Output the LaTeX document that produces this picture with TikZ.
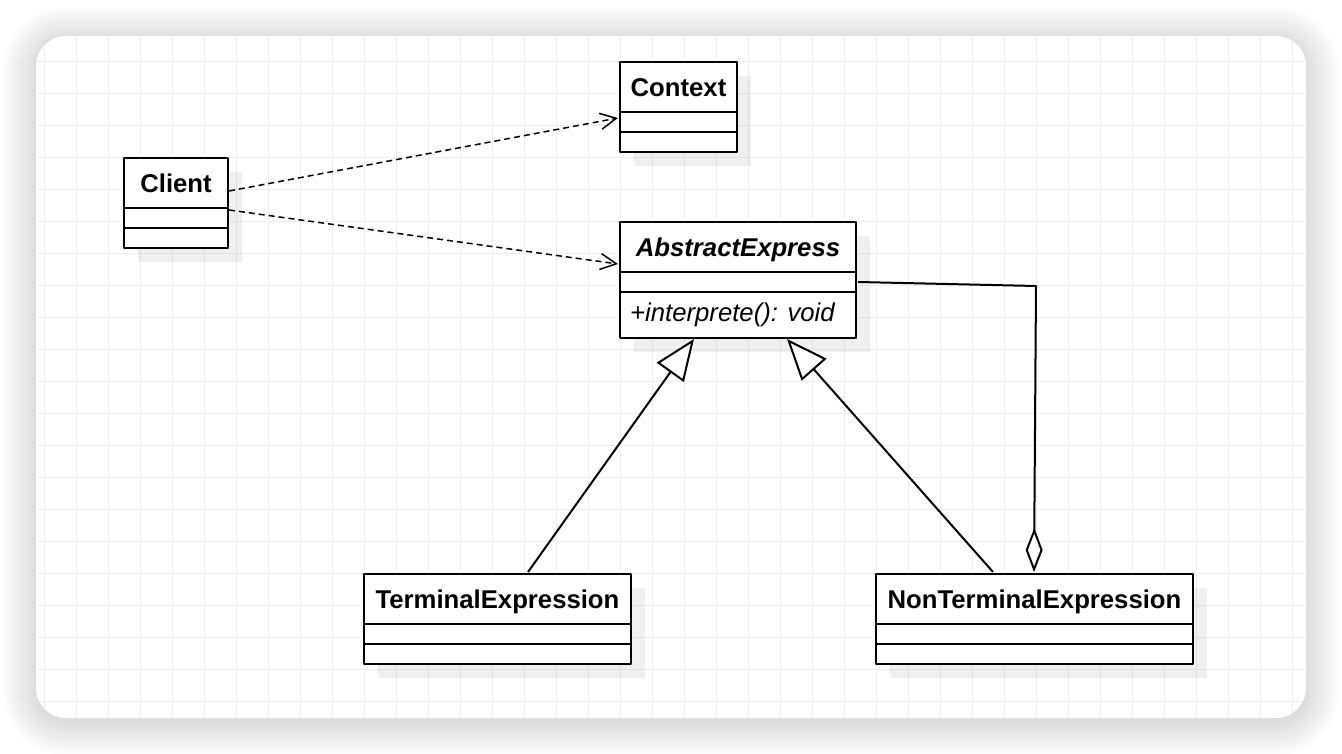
\documentclass[tikz,border=0pt]{standalone}
\usepackage{fontspec}
\setmainfont{Liberation Sans}
\usetikzlibrary{positioning,calc,arrows.meta}
\def\umlfont{\fontsize{25.7}{30}\selectfont}
\tikzset{
  classhead/.style={draw, line width=2pt, fill=white, outer sep=0pt, inner sep=0pt,
    minimum height=50pt, text height=18.4pt, text depth=0pt, font=\umlfont\bfseries},
  classpart/.style={draw, line width=2pt, fill=white, outer sep=0pt, inner sep=0pt,
    minimum height=20pt},
  boxshadow/.style={fill=black, opacity=0.06},
  gridline/.style={line width=1.5pt, draw=gray!13},
  depend/.style={line width=1.5pt, dash pattern=on 6pt off 4pt,
    -{Straight Barb[length=16pt, width=16pt, line width=1.5pt]}},
  inherit/.style={line width=2pt, -{Triangle[length=41pt, width=33pt, fill=white, line width=2pt]}},
  aggreg/.style={line width=2pt, -{Diamond[length=44pt, width=17pt, fill=white, line width=2pt]}}
}
\begin{document}
\begin{tikzpicture}[x=1pt, y=-1pt, line join=round]
\useasboundingbox (0,0) rectangle (1342,754);
% card and its shadow
\foreach \r in {1,...,34}
  \fill[black, opacity=0.005, rounded corners={(30+\r)*1pt}] (36-\r,40-\r) rectangle (1306+\r,722+\r);
\fill[white, rounded corners=30pt] (36,36) rectangle (1306,718);
\begin{scope}
  \clip[rounded corners=30pt] (36,36) rectangle (1306,718);
  \foreach \i in {0,...,39} \draw[gridline] (44.5+32*\i,36) -- (44.5+32*\i,718);
  \foreach \j in {0,...,20} \draw[gridline] (36,61.5+32*\j) -- (1306,61.5+32*\j);
\end{scope}
% shadows of the classes
\fill[boxshadow] (138,172) rectangle (242,262);
\fill[boxshadow] (634,76) rectangle (751,166);
\fill[boxshadow] (634,236) rectangle (870,352);
\fill[boxshadow] (378,588) rectangle (645,678);
\fill[boxshadow] (890,588) rectangle (1207,678);
% classes
\node[classhead, minimum width=104pt, anchor=north west] (client) at (124,158) {Client};
\node[classpart, minimum width=104pt, below=0pt of client] (clientA) {};
\node[classpart, minimum width=104pt, below=0pt of clientA] (clientB) {};

\node[classhead, minimum width=117pt, anchor=north west] (context) at (620,62) {Context};
\node[classpart, minimum width=117pt, below=0pt of context] (contextA) {};
\node[classpart, minimum width=117pt, below=0pt of contextA] (contextB) {};

\node[classhead, minimum width=236pt, anchor=north west, font=\umlfont\bfseries\itshape] (abstract) at (620,222) {AbstractExpress};
\node[classpart, minimum width=236pt, below=0pt of abstract] (abstractA) {};
\node[classpart, minimum width=236pt, minimum height=46pt, below=0pt of abstractA] (abstractM) {};
\node[anchor=west, inner sep=0pt, font=\umlfont\itshape] (interp) at ([xshift=10pt]abstractM.west) {+interprete(): void};

\node[classhead, minimum width=267pt, anchor=north west] (terminal) at (364,574) {TerminalExpression};
\node[classpart, minimum width=267pt, below=0pt of terminal] (terminalA) {};
\node[classpart, minimum width=267pt, below=0pt of terminalA] (terminalB) {};

\node[classhead, minimum width=317pt, anchor=north west] (nonterm) at (876,574) {NonTerminalExpression};
\node[classpart, minimum width=317pt, below=0pt of nonterm] (nontermA) {};
\node[classpart, minimum width=317pt, below=0pt of nontermA] (nontermB) {};
% relations
\draw[depend] ($(client.east)+(1,8)$) -- ($(context.south west)+(-2,6)$);
\draw[depend] ($(client.south east)+(1,2)$) -- ($(abstract.south west)+(-2,-8)$);
\draw[inherit] ($(terminal.north west)+(164,-2)$) -- ($(abstractM.south west)+(74,1)$);
\draw[inherit] ($(nonterm.north west)+(117,-2)$) -- ($(abstractM.south west)+(167,1)$);
\coordinate (bend) at (1036,286);
\draw[aggreg] ($(abstractA.east)+(2,0)$) -- (bend) -- ($(nonterm.north west)+(158,-2)$);
\end{tikzpicture}
\end{document}
